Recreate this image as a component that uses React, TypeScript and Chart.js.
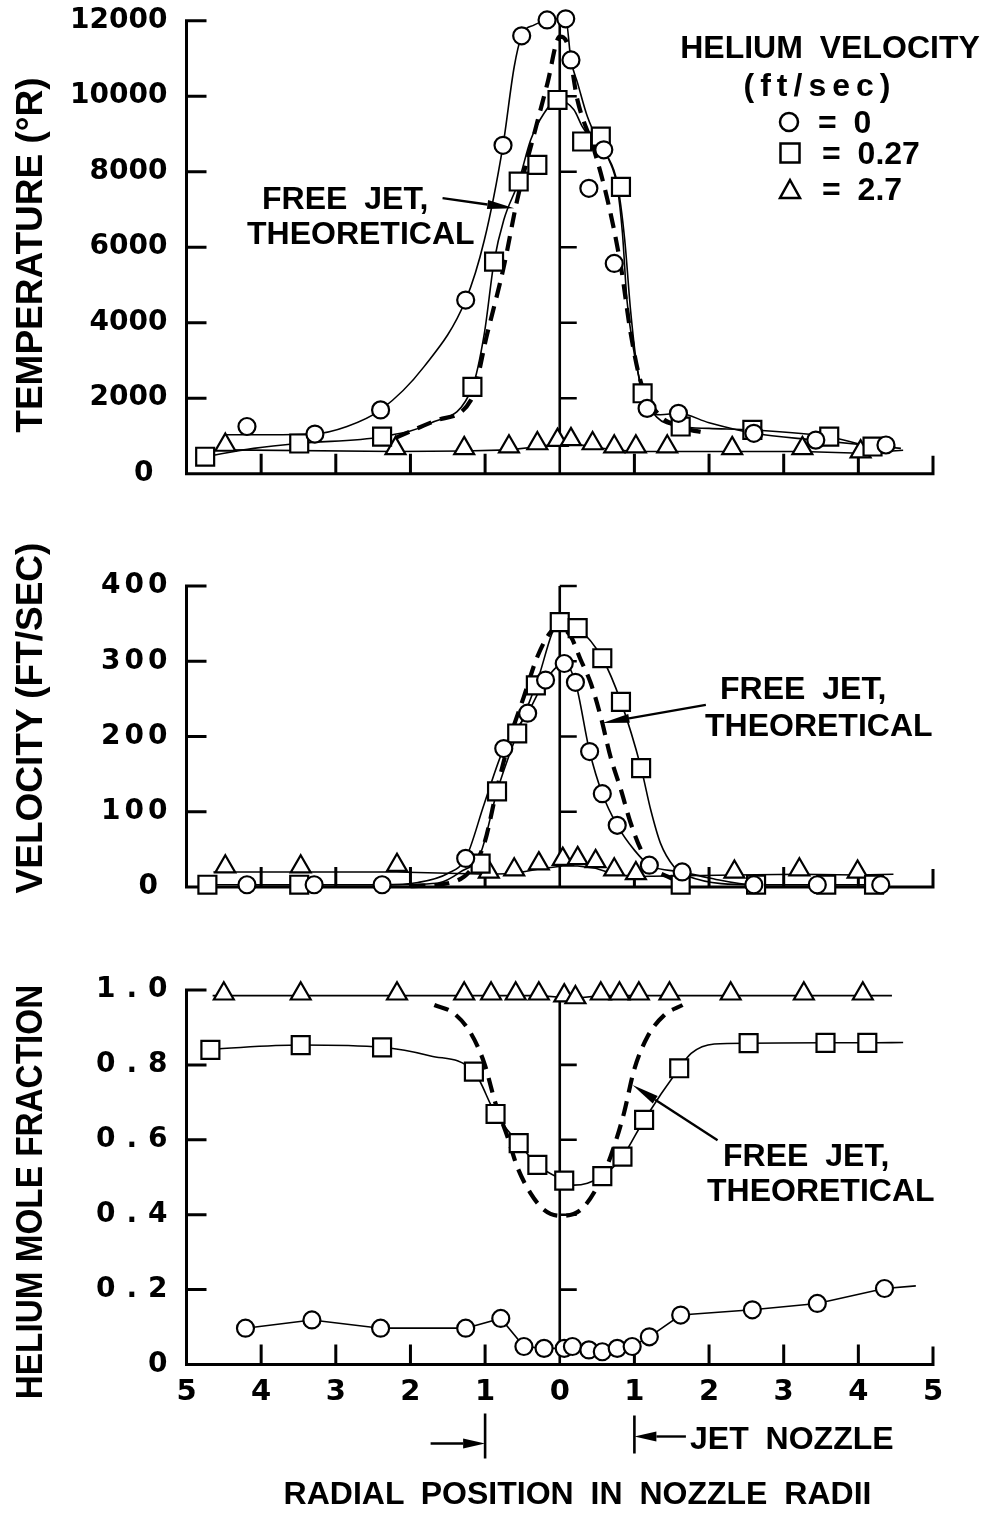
import React, { useEffect, useRef } from 'react';
import { Chart, registerables } from 'chart.js';

Chart.register(...registerables);

// ---------------- axis ticks ----------------
const X_TICKS = [-5, -4, -3, -2, -1, 0, 1, 2, 3, 4, 5];
const X_TICK_LABELS = ['5', '4', '3', '2', '1', '0', '1', '2', '3', '4', '5'];

const TEMP_TICKS = [0, 2000, 4000, 6000, 8000, 10000, 12000];
const TEMP_TICK_LABELS = ['0', '2000', '4000', '6000', '8000', '10000', '12000'];
const VEL_TICKS = [0, 100, 200, 300, 400];
const VEL_TICK_LABELS = ['0', '100', '200', '300', '400'];
const FRAC_TICKS = [0, 0.2, 0.4, 0.6, 0.8, 1.0];
const FRAC_TICK_LABELS = ['0', '0.2', '0.4', '0.6', '0.8', '1.0'];

// ---------------- panel 1 : temperature ----------------
const T_CIRCLE_X = [-4.19, -3.28, -2.40, -1.26, -0.76, -0.51, -0.17, 0.08, 0.15, 0.39, 0.59, 0.73, 1.17, 1.59, 2.60, 3.43, 4.37];
const T_CIRCLE_Y = [1250, 1050, 1690, 4600, 8700, 11600, 12020, 12050, 10960, 7560, 8580, 5570, 1730, 1600, 1070, 890, 760];
const T_CIRCLE_CURVE_X = [-4.48, -3.9, -3.3, -2.85, -2.4, -1.82, -1.26, -1.01, -0.76, -0.61, -0.51, -0.34, -0.17, 0.08, 0.15, 0.24, 0.37, 0.53, 0.66, 0.77, 0.84, 0.90, 0.99, 1.08, 1.17, 1.35, 1.59, 2.0, 2.6, 3.43, 4.57];
const T_CIRCLE_CURVE_Y = [1030, 1030, 1050, 1250, 1690, 2830, 4600, 6190, 8700, 10780, 11600, 11890, 12020, 12060, 10960, 10340, 9460, 8750, 8310, 7600, 6370, 4600, 3280, 2400, 1730, 1560, 1600, 1350, 1070, 890, 670];

const T_SQUARE_X = [-4.75, -3.49, -2.38, -1.17, -0.88, -0.55, -0.30, -0.03, 0.30, 0.55, 0.82, 1.11, 1.62, 2.58, 3.61, 4.19];
const T_SQUARE_Y = [450, 800, 980, 2300, 5620, 7740, 8180, 9900, 8800, 8930, 7600, 2130, 1250, 1160, 980, 720];
const T_SQUARE_CURVE_X = [-4.75, -4.1, -3.49, -2.38, -1.73, -1.17, -1.01, -0.88, -0.75, -0.55, -0.39, -0.21, -0.03, 0.19, 0.30, 0.46, 0.64, 0.77, 0.87, 0.95, 1.03, 1.11, 1.3, 1.62, 2.0, 2.58, 3.61, 4.19, 4.5];
const T_SQUARE_CURVE_Y = [450, 670, 805, 980, 1340, 2300, 3720, 5620, 6720, 7740, 8840, 9550, 9900, 9640, 9200, 8750, 8400, 7700, 6200, 4300, 2900, 2130, 1500, 1250, 1200, 1160, 980, 720, 700];

const T_TRI_X = [-4.48, -2.20, -1.28, -0.68, -0.30, -0.03, 0.15, 0.44, 0.73, 1.02, 1.44, 2.31, 3.25, 4.03];
const T_TRI_Y = [760, 670, 670, 715, 800, 890, 910, 800, 715, 715, 715, 670, 670, 585];
const T_TRI_LINE_X = [-4.48, -2.20, -1.28, -0.68, -0.30, -0.03, 0.15, 0.44, 0.73, 1.02, 1.44, 2.31, 3.25, 4.03, 4.60];
const T_TRI_LINE_Y = [630, 590, 600, 630, 715, 790, 805, 715, 630, 590, 590, 590, 590, 540, 620];

const T_THEORY_X = [-2.2, -1.64, -1.19, -0.97, -0.75, -0.57, -0.34, -0.165, 0, 0.10, 0.237, 0.46, 0.64, 0.82, 0.95, 1.09, 1.31, 1.6, 1.98];
const T_THEORY_Y = [950, 1420, 1950, 3720, 5480, 7250, 9020, 10340, 11580, 11400, 9900, 8575, 7250, 5480, 3720, 2400, 1600, 1250, 1070];

// ---------------- panel 2 : velocity ----------------
const V_CIRCLE_X = [-4.19, -3.29, -2.38, -1.26, -0.75, -0.43, -0.19, 0.06, 0.21, 0.40, 0.57, 0.77, 1.20, 1.64, 2.60, 3.45, 4.30];
const V_CIRCLE_Y = [3, 3, 3, 38, 184, 231, 275, 297, 272, 180, 124, 82, 29, 20, 3, 3, 3];
const V_CIRCLE_CURVE_X = [-4.19, -3.29, -2.38, -1.9, -1.5, -1.26, -1.01, -0.75, -0.43, -0.19, 0.06, 0.21, 0.40, 0.57, 0.77, 1.0, 1.20, 1.64, 2.0, 2.60, 3.45, 4.30];
const V_CIRCLE_CURVE_Y = [3, 3, 3, 6, 18, 38, 111, 184, 231, 275, 297, 272, 180, 124, 82, 49, 29, 20, 12, 3, 3, 3];

const V_SQUARE_X = [-4.72, -3.49, -1.06, -0.84, -0.57, -0.32, 0, 0.24, 0.57, 0.82, 1.09, 1.62, 2.63, 3.57, 4.21];
const V_SQUARE_Y = [3, 3, 31, 127, 204, 268, 352, 344, 304, 246, 158, 3, 3, 3, 3];
const V_SQUARE_CURVE_X = [-4.72, -3.49, -2.4, -1.64, -1.33, -1.06, -0.84, -0.57, -0.32, 0, 0.24, 0.57, 0.82, 1.09, 1.22, 1.35, 1.53, 1.7, 2.63, 3.57, 4.21];
const V_SQUARE_CURVE_Y = [3, 3, 3, 5, 20, 45, 127, 204, 268, 352, 344, 304, 246, 158, 102, 58, 27, 15, 3, 3, 3];

const V_TRI_X = [-4.48, -3.47, -2.18, -0.95, -0.61, -0.28, 0.04, 0.24, 0.48, 0.73, 1.02, 2.34, 3.21, 3.99];
const V_TRI_Y = [27, 27, 29, 20, 23, 31, 37, 38, 34, 23, 18, 20, 23, 20];
const V_TRI_LINE_X = [-4.64, -3.47, -2.18, -0.95, -0.61, -0.28, 0.04, 0.24, 0.48, 0.73, 1.02, 2.34, 3.21, 3.99, 4.47];
const V_TRI_LINE_Y = [20, 20, 20, 17, 18, 24, 28, 28, 25, 17, 14, 16, 17, 16, 17];

const V_THEORY_X = [-2.0, -1.42, -1.19, -1.01, -0.835, -0.66, -0.48, -0.3, -0.12, 0, 0.147, 0.28, 0.415, 0.55, 0.68, 0.82, 0.95, 1.09, 1.22, 1.44, 1.65];
const V_THEORY_Y = [1, 7, 23, 58, 133, 200, 253, 306, 339, 345, 333, 302, 271, 226, 173, 129, 85, 49, 27, 14, 5];

// ---------------- panel 3 : helium mole fraction ----------------
const M_TRI_X = [-4.50, -3.47, -2.18, -1.28, -0.92, -0.59, -0.28, 0.06, 0.21, 0.55, 0.80, 1.06, 1.47, 2.29, 3.27, 4.06];
const M_TRI_Y = [0.99, 0.99, 0.99, 0.99, 0.99, 0.99, 0.99, 0.985, 0.98, 0.99, 0.99, 0.99, 0.99, 0.99, 0.99, 0.99];
const M_TRI_LINE_X = [-4.65, -0.28, 0.06, 0.21, 0.55, 4.45];
const M_TRI_LINE_Y = [0.985, 0.985, 0.98, 0.978, 0.985, 0.985];

const M_SQUARE_X = [-4.68, -3.47, -2.38, -1.15, -0.86, -0.55, -0.30, 0.06, 0.57, 0.84, 1.13, 1.60, 2.53, 3.56, 4.12];
const M_SQUARE_Y = [0.840, 0.853, 0.847, 0.782, 0.669, 0.591, 0.533, 0.491, 0.503, 0.555, 0.653, 0.791, 0.858, 0.859, 0.859];
const M_SQUARE_CURVE_X = [-4.68, -3.47, -2.38, -1.73, -1.15, -0.86, -0.55, -0.30, 0.06, 0.19, 0.37, 0.57, 0.84, 1.13, 1.60, 1.76, 2.07, 2.53, 3.56, 4.12, 4.6];
const M_SQUARE_CURVE_Y = [0.842, 0.853, 0.847, 0.824, 0.782, 0.669, 0.591, 0.533, 0.491, 0.479, 0.484, 0.503, 0.555, 0.653, 0.791, 0.831, 0.856, 0.858, 0.859, 0.859, 0.86];

const M_CIRCLE_X = [-4.21, -3.32, -2.40, -1.26, -0.79, -0.48, -0.21, 0.06, 0.17, 0.39, 0.57, 0.77, 0.97, 1.20, 1.62, 2.58, 3.45, 4.35];
const M_CIRCLE_Y = [0.097, 0.119, 0.097, 0.097, 0.123, 0.048, 0.043, 0.043, 0.048, 0.039, 0.034, 0.043, 0.048, 0.074, 0.132, 0.146, 0.163, 0.203];
const M_CIRCLE_LINE_X = [-4.21, -3.32, -2.40, -1.26, -0.79, -0.48, -0.21, 0.06, 0.17, 0.39, 0.57, 0.77, 0.97, 1.20, 1.62, 2.58, 3.45, 4.35, 4.77];
const M_CIRCLE_LINE_Y = [0.097, 0.119, 0.097, 0.097, 0.123, 0.048, 0.043, 0.043, 0.048, 0.039, 0.034, 0.043, 0.048, 0.074, 0.132, 0.146, 0.163, 0.203, 0.21];

const M_THEORY_X = [-1.68, -1.42, -1.19, -1.01, -0.86, -0.70, -0.57, -0.39, -0.21, 0, 0.28, 0.505, 0.68, 0.86, 0.995, 1.175, 1.40, 1.645];
const M_THEORY_Y = [0.960, 0.938, 0.884, 0.804, 0.697, 0.608, 0.528, 0.457, 0.413, 0.397, 0.413, 0.475, 0.555, 0.671, 0.786, 0.875, 0.933, 0.960];

// ---------------- annotation arrows (data coordinates) ----------------
const T_ARROW = [-1.57, 7300, -0.61, 7030];
const V_ARROW = [1.957, 242, 0.572, 218];
const M_ARROW = [2.114, 0.599, 0.975, 0.746];

// ---------------- styling ----------------
const LETTER_FONT = '"Liberation Sans", Arial, Helvetica, sans-serif';
const TICK_FONT = '"DejaVu Sans", "Liberation Sans", sans-serif';
const PLOT_LEFT = 186.5;
const PLOT_RIGHT = 933;

const pts = (xs: number[], ys: number[]) => xs.map((x, i) => ({ x, y: ys[i] }));

const POINT_R: Record<string, number> = { circle: 8.5, rect: 12.7, triangle: 11.5 };

const markers = (xs: number[], ys: number[], style: string) => ({
  data: pts(xs, ys),
  showLine: false,
  pointStyle: style,
  pointRadius: POINT_R[style],
  pointBorderWidth: 2.2,
  pointBorderColor: '#000',
  pointBackgroundColor: '#fff',
  clip: false,
  order: 0,
});

const curve = (xs: number[], ys: number[], smooth = true, dashed = false) => ({
  data: pts(xs, ys),
  showLine: true,
  pointRadius: 0,
  borderColor: '#000',
  borderWidth: dashed ? 4.2 : 1.6,
  borderDash: dashed ? [15, 9] : [],
  cubicInterpolationMode: smooth ? 'monotone' : 'default',
  tension: smooth ? 0.4 : 0,
  clip: false,
  order: 1,
});

type PanelCfg = {
  top: number;
  height: number;
  areaTop: number;
  areaBottom: number;
  yMax: number;
  yTicks: number[];
  yLabels: string[];
  tickSpacing: number;
  zeroSuffix: string;
  leftTicks: number[];
  centerTop: number;
  centerTicks: number[];
  showX: boolean;
  arrow: number[];
  nozzle?: boolean;
  datasets: any[];
};

function drawArrow(ctx: CanvasRenderingContext2D, x1: number, y1: number, x2: number, y2: number, len = 27, half = 4.5) {
  const a = Math.atan2(y2 - y1, x2 - x1);
  const bx = x2 - len * Math.cos(a);
  const by = y2 - len * Math.sin(a);
  ctx.beginPath();
  ctx.moveTo(x1, y1);
  ctx.lineTo(bx, by);
  ctx.stroke();
  ctx.beginPath();
  ctx.moveTo(x2, y2);
  ctx.lineTo(bx + half * Math.sin(a), by - half * Math.cos(a));
  ctx.lineTo(bx - half * Math.sin(a), by + half * Math.cos(a));
  ctx.closePath();
  ctx.fill();
}

function framePlugin(cfg: PanelCfg) {
  return {
    id: 'frame',
    beforeDraw(chart: any) {
      const s = chart.scales.y;
      if (cfg.tickSpacing && s && !s.__spaced) {
        const orig = s.drawLabels.bind(s);
        s.drawLabels = (area: any) => {
          const c = chart.ctx;
          c.save();
          c.letterSpacing = cfg.tickSpacing + 'px';
          orig(area);
          c.restore();
        };
        s.__spaced = true;
      }
    },
    beforeDatasetsDraw(chart: any) {
      const { ctx } = chart;
      const xs = chart.scales.x;
      const ys = chart.scales.y;
      const X = (v: number) => xs.getPixelForValue(v);
      const Y = (v: number) => ys.getPixelForValue(v);
      const x0 = X(-5);
      const x5 = X(5);
      const xc = X(0);
      const yb = Y(0);
      const topV = cfg.leftTicks[cfg.leftTicks.length - 1];
      ctx.save();
      ctx.strokeStyle = '#000';
      ctx.lineWidth = 3;
      ctx.lineJoin = 'miter';
      ctx.beginPath();
      ctx.moveTo(x0 + 20, Y(topV));
      ctx.lineTo(x0, Y(topV));
      ctx.lineTo(x0, yb);
      ctx.lineTo(x5, yb);
      ctx.lineTo(x5, yb - 18);
      ctx.stroke();
      ctx.beginPath();
      cfg.leftTicks.slice(0, -1).forEach((v) => {
        ctx.moveTo(x0, Y(v));
        ctx.lineTo(x0 + 20, Y(v));
      });
      X_TICKS.filter((v) => Math.abs(v) !== 5 && v !== 0).forEach((v) => {
        ctx.moveTo(X(v), yb);
        ctx.lineTo(X(v), yb - 20);
      });
      ctx.stroke();
      ctx.lineWidth = 2.6;
      ctx.beginPath();
      ctx.moveTo(xc, yb);
      ctx.lineTo(xc, Y(cfg.centerTop));
      cfg.centerTicks.forEach((v) => {
        ctx.moveTo(xc, Y(v));
        ctx.lineTo(xc + 17, Y(v));
      });
      ctx.stroke();
      ctx.restore();
    },
    afterDatasetsDraw(chart: any) {
      const { ctx } = chart;
      const xs = chart.scales.x;
      const ys = chart.scales.y;
      const X = (v: number) => xs.getPixelForValue(v);
      const Y = (v: number) => ys.getPixelForValue(v);
      ctx.save();
      ctx.strokeStyle = '#000';
      ctx.fillStyle = '#000';
      ctx.lineWidth = 2.4;
      const [ax1, ay1, ax2, ay2] = cfg.arrow;
      drawArrow(ctx, X(ax1), Y(ay1), X(ax2), Y(ay2));
      if (cfg.nozzle) {
        const yb = Y(0);
        ctx.lineWidth = 2.6;
        const xl = X(-1);
        const xr = X(1);
        ctx.beginPath();
        ctx.moveTo(xl, yb + 49);
        ctx.lineTo(xl, yb + 94);
        ctx.moveTo(xr, yb + 51);
        ctx.lineTo(xr, yb + 89);
        ctx.stroke();
        ctx.lineWidth = 2.4;
        drawArrow(ctx, X(-1.73), yb + 79, xl, yb + 79, 22, 5);
        drawArrow(ctx, X(1.69), yb + 72, xr, yb + 72, 22, 5);
      }
      ctx.restore();
    },
  };
}

function buildChart(canvas: HTMLCanvasElement, cfg: PanelCfg) {
  const xAxisH = cfg.showX ? 60 : 0;
  return new Chart(canvas, {
    type: 'scatter',
    data: { datasets: cfg.datasets },
    options: {
      responsive: false,
      animation: false,
      devicePixelRatio: 1,
      events: [],
      layout: {
        padding: {
          left: 0,
          right: 988 - PLOT_RIGHT,
          top: cfg.areaTop - cfg.top,
          bottom: cfg.top + cfg.height - cfg.areaBottom - xAxisH,
        },
      },
      plugins: { legend: { display: false }, tooltip: { enabled: false }, title: { display: false } },
      scales: {
        x: {
          type: 'linear',
          min: -5,
          max: 5,
          display: cfg.showX,
          afterFit: (s: any) => {
            s.height = xAxisH;
          },
          afterBuildTicks: (s: any) => {
            s.ticks = X_TICKS.map((v) => ({ value: v }));
          },
          grid: { display: false, drawTicks: false },
          border: { display: false },
          ticks: {
            autoSkip: false,
            maxRotation: 0,
            padding: 11,
            color: '#000',
            font: { family: TICK_FONT, size: 29, weight: 'bold' },
            callback: (_v: any, i: number) => X_TICK_LABELS[i],
          },
        },
        y: {
          type: 'linear',
          min: 0,
          max: cfg.yMax,
          afterFit: (s: any) => {
            s.width = PLOT_LEFT;
          },
          afterBuildTicks: (s: any) => {
            s.ticks = cfg.yTicks.map((v) => ({ value: v }));
          },
          grid: { display: false, drawTicks: false },
          border: { display: false },
          ticks: {
            padding: 19 - cfg.tickSpacing,
            color: '#000',
            font: { family: TICK_FONT, size: 28, weight: 'bold' },
            callback: (_v: any, i: number) => (i === 0 ? cfg.yLabels[i] + cfg.zeroSuffix : cfg.yLabels[i]),
          },
        },
      },
    } as any,
    plugins: [framePlugin(cfg) as any],
  });
}

const PANELS: PanelCfg[] = [
  {
    top: -30,
    height: 550,
    areaTop: 20.7,
    areaBottom: 473.7,
    yMax: 12000,
    yTicks: TEMP_TICKS,
    yLabels: TEMP_TICK_LABELS,
    tickSpacing: 0,
    zeroSuffix: '\u2002',
    leftTicks: TEMP_TICKS.slice(1),
    centerTop: 12000,
    centerTicks: [2000, 4000, 6000, 8000, 10000],
    showX: false,
    arrow: T_ARROW,
    datasets: [
      markers(T_CIRCLE_X, T_CIRCLE_Y, 'circle'),
      markers(T_SQUARE_X, T_SQUARE_Y, 'rect'),
      markers(T_TRI_X, T_TRI_Y, 'triangle'),
      curve(T_CIRCLE_CURVE_X, T_CIRCLE_CURVE_Y),
      curve(T_SQUARE_CURVE_X, T_SQUARE_CURVE_Y),
      curve(T_TRI_LINE_X, T_TRI_LINE_Y, false),
      curve(T_THEORY_X, T_THEORY_Y, true, true),
    ],
  },
  {
    top: 520,
    height: 420,
    areaTop: 586,
    areaBottom: 887,
    yMax: 400,
    yTicks: VEL_TICKS,
    yLabels: VEL_TICK_LABELS,
    tickSpacing: 4,
    zeroSuffix: '\u2009',
    leftTicks: VEL_TICKS.slice(1),
    centerTop: 400,
    centerTicks: [100, 200, 300, 400],
    showX: false,
    arrow: V_ARROW,
    datasets: [
      markers(V_CIRCLE_X, V_CIRCLE_Y, 'circle'),
      markers(V_SQUARE_X, V_SQUARE_Y, 'rect'),
      markers(V_TRI_X, V_TRI_Y, 'triangle'),
      curve(V_CIRCLE_CURVE_X, V_CIRCLE_CURVE_Y),
      curve(V_SQUARE_CURVE_X, V_SQUARE_CURVE_Y),
      curve(V_TRI_LINE_X, V_TRI_LINE_Y, false),
      curve(V_THEORY_X, V_THEORY_Y, true, true),
    ],
  },
  {
    top: 940,
    height: 578,
    areaTop: 990,
    areaBottom: 1364.5,
    yMax: 1,
    yTicks: FRAC_TICKS,
    yLabels: FRAC_TICK_LABELS,
    tickSpacing: 11,
    zeroSuffix: '',
    leftTicks: FRAC_TICKS.slice(1),
    centerTop: 0.97,
    centerTicks: [0.2, 0.4, 0.6, 0.8],
    showX: true,
    arrow: M_ARROW,
    nozzle: true,
    datasets: [
      markers(M_TRI_X, M_TRI_Y, 'triangle'),
      markers(M_SQUARE_X, M_SQUARE_Y, 'rect'),
      markers(M_CIRCLE_X, M_CIRCLE_Y, 'circle'),
      curve(M_TRI_LINE_X, M_TRI_LINE_Y, false),
      curve(M_SQUARE_CURVE_X, M_SQUARE_CURVE_Y),
      curve(M_CIRCLE_LINE_X, M_CIRCLE_LINE_Y, false),
      curve(M_THEORY_X, M_THEORY_Y, true, true),
    ],
  },
];

function Panel({ cfg }: { cfg: PanelCfg }) {
  const ref = useRef<HTMLCanvasElement>(null);
  useEffect(() => {
    const chart = buildChart(ref.current as HTMLCanvasElement, cfg);
    return () => chart.destroy();
  }, [cfg]);
  return (
    <canvas
      ref={ref}
      width={988}
      height={cfg.height}
      style={{ position: 'absolute', left: 0, top: cfg.top, width: 988, height: cfg.height }}
    />
  );
}

function Txt({ x, y, children, size = 32, anchor = 'start', ls = 0, ws = 8 }: any) {
  return (
    <div
      style={{
        position: 'absolute',
        left: x,
        top: y,
        transform: `translate(${anchor === 'middle' ? '-50%' : '0'}, -50%)`,
        fontFamily: LETTER_FONT,
        fontWeight: 700,
        fontSize: size,
        lineHeight: 1,
        letterSpacing: ls,
        wordSpacing: ws,
        whiteSpace: 'pre',
        color: '#000',
      }}
    >
      {children}
    </div>
  );
}

function VTxt({ x, y, children, size = 37, sx = 1 }: any) {
  return (
    <div
      style={{
        position: 'absolute',
        left: x,
        top: y,
        transform: `translate(-50%, -50%) rotate(-90deg) scaleX(${sx})`,
        fontFamily: LETTER_FONT,
        fontWeight: 700,
        fontSize: size,
        lineHeight: 1,
        whiteSpace: 'pre',
        color: '#000',
      }}
    >
      {children}
    </div>
  );
}

export default function App() {
  return (
    <div style={{ position: 'absolute', left: 0, top: 0, width: 988, height: 1518, background: '#fff', overflow: 'hidden' }}>
      {PANELS.map((p, i) => (
        <Panel key={i} cfg={p} />
      ))}
      <div style={{ position: 'absolute', left: 0, top: 0, width: 988, height: 1518, pointerEvents: 'none' }}>
        <VTxt x={29} y={255}>TEMPERATURE (°R)</VTxt>
        <VTxt x={29} y={718}>VELOCITY (FT/SEC)</VTxt>
        <VTxt x={29} y={1192} sx={0.9}>HELIUM MOLE FRACTION</VTxt>

        <Txt x={830} y={47} anchor="middle">HELIUM VELOCITY</Txt>
        <Txt x={820} y={85} anchor="middle" ls={6}>(ft/sec)</Txt>
        <Txt x={818} y={122}>= 0</Txt>
        <Txt x={822} y={153}>= 0.27</Txt>
        <Txt x={822} y={189}>= 2.7</Txt>
        <svg width={988} height={220} style={{ position: 'absolute', left: 0, top: 0 }}>
          <circle cx={789} cy={122} r={9} fill="#fff" stroke="#000" strokeWidth={2.5} />
          <rect x={780.5} y={143.5} width={19} height={19} fill="#fff" stroke="#000" strokeWidth={2.5} />
          <polygon points="780,198 800,198 790,180" fill="#fff" stroke="#000" strokeWidth={2.5} />
        </svg>

        <Txt x={262} y={197.5}>FREE JET,</Txt>
        <Txt x={247} y={233}>THEORETICAL</Txt>
        <Txt x={720} y={688}>FREE JET,</Txt>
        <Txt x={705} y={725}>THEORETICAL</Txt>
        <Txt x={723} y={1155}>FREE JET,</Txt>
        <Txt x={707} y={1190}>THEORETICAL</Txt>

        <Txt x={690} y={1438}>JET NOZZLE</Txt>
        <Txt x={577.5} y={1492.5} anchor="middle">RADIAL POSITION IN NOZZLE RADII</Txt>
      </div>
    </div>
  );
}
